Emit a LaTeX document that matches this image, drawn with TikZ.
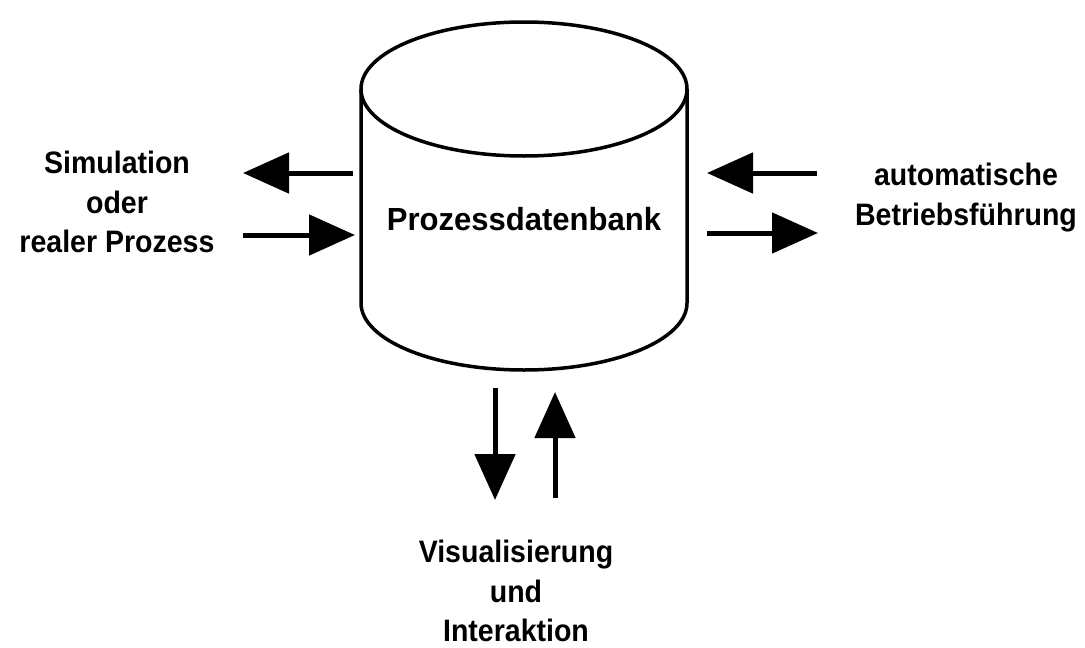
\documentclass[tikz,border=0pt]{standalone}
\usepackage{fontspec}
\setmainfont{Liberation Sans}
\newfontfamily\narrowsans[FakeStretch=0.92]{Liberation Sans}
\newfontfamily\mainsans[FakeStretch=0.97]{Liberation Sans}
\usetikzlibrary{arrows.meta}
\begin{document}
\begin{tikzpicture}[x=1pt,y=-1pt,
  lbl/.style={font=\narrowsans\bfseries\fontsize{31}{39.5}\selectfont, align=center, inner sep=0pt, anchor=north},
  flow/.style={line width=5pt, -{Triangle[length=46pt,width=40pt]}},
  cyl/.style={line width=3.5pt, line join=round}]
\useasboundingbox (0,0) rectangle (1085,648);
% cylinder
\draw[cyl] (361,89) -- (361,303) arc[start angle=180, end angle=0, x radius=163, y radius=67] -- (687,89);
\draw[cyl] (524,89) ellipse[x radius=163, y radius=67];
\node[font=\mainsans\bfseries\fontsize{32}{36}\selectfont, inner sep=0pt, anchor=base] (db) at (524,230) {Prozessdatenbank};
% labels
\node[lbl] (sim) at (117,151) {Simulation\\oder\\realer Prozess};
\node[lbl] (abf) at (966,163) {automatische\\Betriebsführung};
\node[lbl] (vis) at (516,540) {Visualisierung\\und\\Interaktion};
% arrow end points
\coordinate (l1s) at (353,173); \coordinate (l1e) at (243,173);
\coordinate (l2s) at (243,235); \coordinate (l2e) at (355,235);
\coordinate (r1s) at (817,173); \coordinate (r1e) at (707,173);
\coordinate (r2s) at (707,233); \coordinate (r2e) at (818,233);
\coordinate (d1s) at (495,388); \coordinate (d1e) at (495,500);
\coordinate (u1s) at (555,498); \coordinate (u1e) at (555,392);
\draw[flow] (l1s) -- (l1e);
\draw[flow] (l2s) -- (l2e);
\draw[flow] (r1s) -- (r1e);
\draw[flow] (r2s) -- (r2e);
\draw[flow] (d1s) -- (d1e);
\draw[flow] (u1s) -- (u1e);
\end{tikzpicture}
\end{document}
